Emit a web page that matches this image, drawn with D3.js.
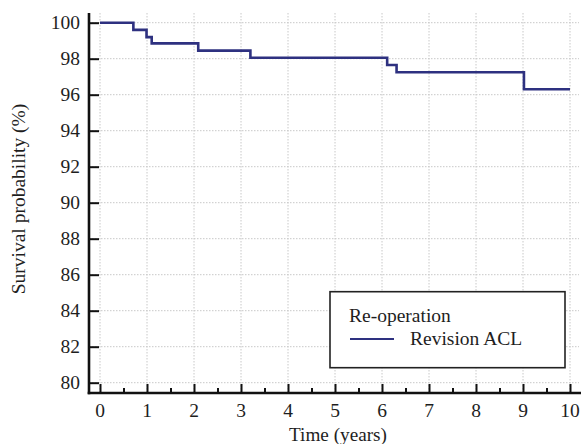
<!DOCTYPE html>
<html><head><meta charset="utf-8">
<script src="https://cdn.jsdelivr.net/npm/d3@7"></script>
<style>body{margin:0;background:#fff}svg{display:block}</style>
</head><body>
<svg id="c" width="581" height="444"></svg>
<script>
const times =    [0,   0.71, 0.99, 1.10,  2.09,  3.20,  6.11,  6.31,  9.02, 10];
const survival = [100, 99.6, 99.2, 98.85, 98.45, 98.05, 97.65, 97.25, 96.3, 96.3];
const xTicks = [0,1,2,3,4,5,6,7,8,9,10];
const yTicks = [80,82,84,86,88,90,92,94,96,98,100];
const legendTitle = "Re-operation";
const seriesName = "Revision ACL";

(function(){
const svg = d3.select("#c");
const x = d3.scaleLinear().domain([0,10]).range([100,570]);
const y = d3.scaleLinear().domain([80,100]).range([382.7,22.7]);
const axX = 89, axY = 393, topY = 13, rightX = 581;
const font = "'Liberation Serif', serif";
const ink = "#1e1e1e";

// grid
const g = svg.append("g");
g.selectAll(".vg").data(xTicks).join("line")
  .attr("x1",d=>x(d)).attr("x2",d=>x(d)).attr("y1",topY).attr("y2",axY)
  .attr("stroke","#c8c8c8").attr("stroke-width",1).attr("stroke-dasharray","1.5,1.5");
g.selectAll(".hg").data(yTicks).join("line")
  .attr("x1",axX).attr("x2",579).attr("y1",d=>y(d)).attr("y2",d=>y(d))
  .attr("stroke","#c8c8c8").attr("stroke-width",1).attr("stroke-dasharray","1.5,1.5");

// step curve
const line = d3.line().x(d=>x(d[0])).y(d=>y(d[1])).curve(d3.curveStepAfter);
svg.append("path").datum(times.map((t,i)=>[t,survival[i]]))
  .attr("d",line).attr("fill","none").attr("stroke","#2e3180").attr("stroke-width",2.6);

// axes
const yAxis = d3.axisRight(y).tickValues(yTicks).tickSize(10).tickFormat("");
const ya = svg.append("g").attr("transform",`translate(${axX},0)`).call(yAxis);
ya.select(".domain").remove();
ya.selectAll(".tick line").attr("stroke","#111").attr("stroke-width",2);
const xAxis = d3.axisTop(x).tickValues(xTicks).tickSize(9).tickFormat("");
const xa = svg.append("g").attr("transform",`translate(0,${axY})`).call(xAxis);
xa.select(".domain").remove();
xa.selectAll(".tick line").attr("stroke","#111").attr("stroke-width",2);
const xMinor = d3.axisTop(x).tickValues(d3.range(0.5,10,1)).tickSize(5).tickFormat("");
const xm = svg.append("g").attr("transform",`translate(0,${axY})`).call(xMinor);
xm.select(".domain").remove();
xm.selectAll(".tick line").attr("stroke","#111").attr("stroke-width",2);

svg.append("line").attr("x1",axX).attr("x2",axX).attr("y1",topY).attr("y2",axY+1.3)
  .attr("stroke","#111").attr("stroke-width",2.6);
svg.append("line").attr("x1",axX-1.3).attr("x2",rightX).attr("y1",axY).attr("y2",axY)
  .attr("stroke","#111").attr("stroke-width",2.6);

// tick labels
svg.selectAll(".yl").data(yTicks).join("text")
  .attr("x",80).attr("y",d=>y(d)).attr("dy","0.34em").attr("text-anchor","end")
  .attr("font-family",font).attr("font-size",19.5).attr("fill",ink).text(d=>d);
svg.selectAll(".xl").data(xTicks).join("text")
  .attr("x",d=>x(d)).attr("y",410).attr("dy","0.34em").attr("text-anchor","middle")
  .attr("font-family",font).attr("font-size",19.5).attr("fill",ink).text(d=>d);

// axis titles
svg.append("text").attr("x",338).attr("y",440.5).attr("text-anchor","middle")
  .attr("font-family",font).attr("font-size",19.2).attr("fill",ink).text("Time (years)");
svg.append("text").attr("transform","translate(25,199) rotate(-90)").attr("text-anchor","middle")
  .attr("font-family",font).attr("font-size",19.5).attr("fill",ink).text("Survival probability (%)");

// legend
const lg = svg.append("g");
lg.append("rect").attr("x",330).attr("y",291.7).attr("width",235).attr("height",76)
  .attr("fill","#fff").attr("stroke","#222").attr("stroke-width",1.6);
lg.append("text").attr("x",349).attr("y",322).attr("font-family",font).attr("font-size",19.5)
  .attr("fill",ink).text(legendTitle);
lg.append("line").attr("x1",350).attr("x2",394).attr("y1",339).attr("y2",339)
  .attr("stroke","#2e3180").attr("stroke-width",2.2);
lg.append("text").attr("x",410).attr("y",344.5).attr("font-family",font).attr("font-size",19.5)
  .attr("fill",ink).text(seriesName);
})();
</script>
</body></html>
